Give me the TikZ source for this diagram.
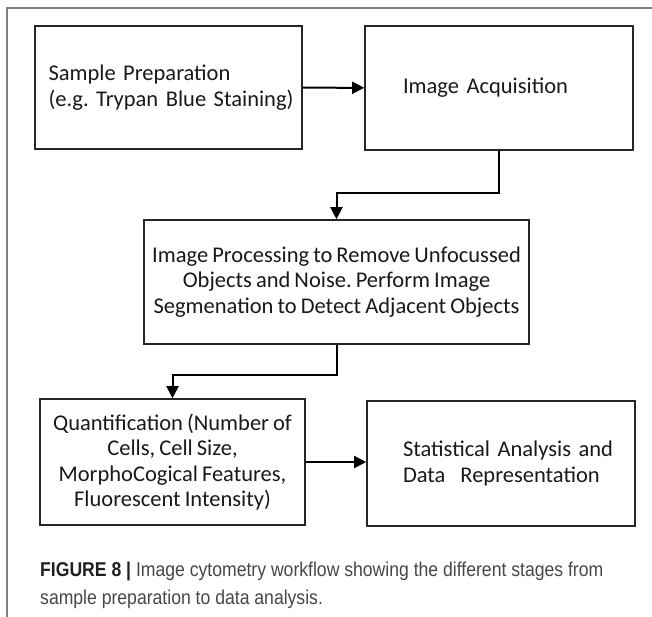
\documentclass[tikz,border=0pt]{standalone}
\usepackage{fontspec}
\setmainfont{Carlito}[WordSpace=0.8]
\newfontfamily\capfont[FakeStretch=0.88]{Liberation Sans}
\usetikzlibrary{arrows.meta}
\frenchspacing

\begin{document}
\begin{tikzpicture}[x=1pt,y=-1pt,
    stage/.style={draw=black!85,line width=1.6pt,inner sep=0pt,
      font=\fontsize{22.5}{25.5}\selectfont,text=black!90},
    arr/.style={line width=2pt,-{Triangle[length=12pt,width=12pt]}}]
  \useasboundingbox (0,0) rectangle (652,617);
  \draw[line width=1.6pt,black!50] (652,8) -- (7,8) -- (7,617);

  \node[stage,minimum width=267,minimum height=123,text width=240,align=left] (prep) at (168.5,87.5)
    {\mbox{Sample Preparation}\\\mbox{(e.g. Trypan Blue Staining)}};
  \node[stage,minimum width=268,minimum height=124,text width=192,align=left] (acq) at (499,88)
    {\mbox{Image Acquisition}};
  \node[stage,minimum width=385,minimum height=124,align=center] (proc) at (336.5,282)
    {Image Processing to Remove Unfocussed\\Objects and Noise. Perform Image\\Segmenation to Detect Adjacent Objects};
  \node[stage,minimum width=265,minimum height=126,align=center] (quant) at (172.5,462)
    {Quantification (Number of\\Cells, Cell Size,\\MorphoCogical Features,\\Fluorescent Intensity)};
  \node[stage,minimum width=268,minimum height=125,text width=196,align=left] (stat) at (501,463.5)
    {\mbox{Statistical Analysis and}\\\mbox{Data\ \ Representation}};

  \draw[arr] (prep) -- (acq);
  \draw[arr] (acq.south) -- ++(0,42) -| (proc.north);
  \draw[arr] (proc.south) -- ++(0,30) -| (quant.north);
  \draw[arr] (quant.east) -- (quant.east -| stat.west);

  \node[anchor=north west,align=left,inner sep=0pt,text=black!72,
    font=\capfont\fontsize{20}{28}\selectfont] (cap) at (40,562)
    {{\color{black!88}\textbf{FIGURE 8 |}} Image cytometry workflow showing the different stages from\\
     sample preparation to data analysis.};
\end{tikzpicture}
\end{document}
